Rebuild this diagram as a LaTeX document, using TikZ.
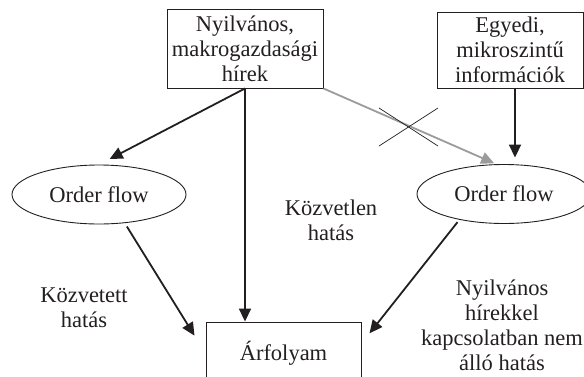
\documentclass[tikz,border=0pt]{standalone}
\usepackage{fontspec}
\setmainfont{Liberation Serif}
\usetikzlibrary{shapes.geometric,arrows.meta}
\definecolor{arrowgray}{RGB}{155,155,155}
\definecolor{ink}{RGB}{35,31,32}
\begin{document}
\begin{tikzpicture}[x=1pt,y=-1pt,
  txt/.style={font=\fontsize{22.5}{25}\selectfont, text=ink, align=center, inner sep=0pt},
  boxnode/.style={txt, draw=ink, line width=0.9pt},
  ellnode/.style={txt, draw=ink, ellipse, line width=0.9pt, minimum width=174pt, minimum height=59pt},
  arr/.style={draw=ink, line width=1.8pt, -{Triangle[length=13pt,width=12pt]}},
  grayarr/.style={arr, draw=arrowgray},
  crossline/.style={draw=ink, line width=0.7pt}
]
\clip (0,0) rectangle (584,376);
\node[boxnode, minimum width=156pt, minimum height=79pt] (pub) at (245,48.5) {Nyilvános,\\makrogazdasági\\hírek};
\node[boxnode, minimum width=146pt, minimum height=76pt] (ind) at (510,50) {Egyedi,\\mikroszintű\\információk};
\node[ellnode] (ofl) at (99,194.5) {Order flow};
\node[ellnode] (ofr) at (504,194) {Order flow};
\node[boxnode, minimum width=155pt, minimum height=63pt] (arf) at (283.5,353.5) {Árfolyam};
\node[txt] (direct) at (331,220) {Közvetlen\\hatás};
\node[txt] (indirect) at (84,308) {Közvetett\\hatás};
\node[txt] (unrel) at (502,325) {Nyilvános\\hírekkel\\kapcsolatban nem\\álló hatás};

\draw[arr, shorten >=12pt] (pub.south) -- (ofl.north);
\draw[arr] (pub.south) -- (pub.south |- arf.north);
\draw[grayarr, shorten >=2pt] (pub.south east) -- ([xshift=-8pt]ofr.north);
\draw[arr, shorten >=6.5pt] ([xshift=5pt]ind.south) -- ([xshift=5pt]ind.south |- ofr.north);
\draw[arr, shorten <=4pt, shorten >=21pt] (ofl.-48) -- (arf.west);
\draw[arr, shorten <=3pt, shorten >=13pt] (ofr.210) -- ([yshift=10pt]arf.east);

\draw[crossline] (379,108) -- (438,146);
\draw[crossline] (379,146) -- (438,108);
\end{tikzpicture}
\end{document}
